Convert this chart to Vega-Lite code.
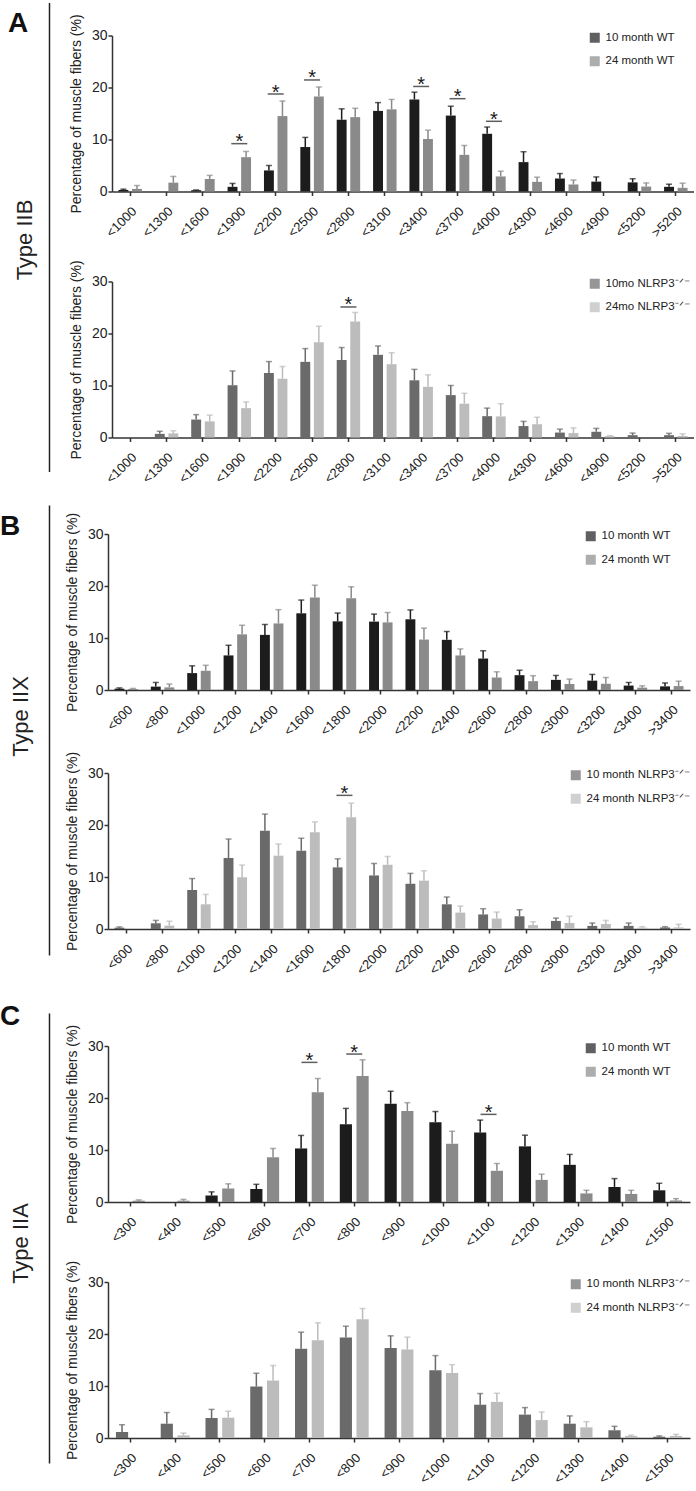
{
  "$schema": "https://vega.github.io/schema/vega-lite/v6.json",
  "background": "white",
  "padding": {"left": 0, "top": 9.5, "right": 0, "bottom": 0},
  "datasets": {
    "A1": [
      {"b":"<1000","g":"10 month WT","m":0.3,"t":0.45},{"b":"<1000","g":"24 month WT","m":0.5,"t":1.15},
      {"b":"<1300","g":"24 month WT","m":1.7,"t":2.9},
      {"b":"<1600","g":"10 month WT","m":0.25,"t":0.3},{"b":"<1600","g":"24 month WT","m":2.4,"t":3.1},
      {"b":"<1900","g":"10 month WT","m":0.9,"t":1.55},{"b":"<1900","g":"24 month WT","m":6.6,"t":7.7},
      {"b":"<2200","g":"10 month WT","m":4.05,"t":5.0},{"b":"<2200","g":"24 month WT","m":14.5,"t":17.4},
      {"b":"<2500","g":"10 month WT","m":8.55,"t":10.4},{"b":"<2500","g":"24 month WT","m":18.25,"t":20.1},
      {"b":"<2800","g":"10 month WT","m":13.8,"t":15.9},{"b":"<2800","g":"24 month WT","m":14.3,"t":16.0},
      {"b":"<3100","g":"10 month WT","m":15.5,"t":17.1},{"b":"<3100","g":"24 month WT","m":15.8,"t":17.7},
      {"b":"<3400","g":"10 month WT","m":17.7,"t":19.1},{"b":"<3400","g":"24 month WT","m":10.1,"t":11.8},
      {"b":"<3700","g":"10 month WT","m":14.6,"t":16.4},{"b":"<3700","g":"24 month WT","m":7.05,"t":8.85},
      {"b":"<4000","g":"10 month WT","m":11.1,"t":12.4},{"b":"<4000","g":"24 month WT","m":2.9,"t":3.9},
      {"b":"<4300","g":"10 month WT","m":5.65,"t":7.65},{"b":"<4300","g":"24 month WT","m":1.85,"t":2.75},
      {"b":"<4600","g":"10 month WT","m":2.5,"t":3.45},{"b":"<4600","g":"24 month WT","m":1.35,"t":2.2},
      {"b":"<4900","g":"10 month WT","m":1.9,"t":2.8},
      {"b":"<5200","g":"10 month WT","m":1.75,"t":2.45},{"b":"<5200","g":"24 month WT","m":0.95,"t":1.65},
      {"b":">5200","g":"10 month WT","m":0.9,"t":1.4},{"b":">5200","g":"24 month WT","m":0.7,"t":1.6}
    ],
    "A1s": [{"b":"<1900","y":9.2},{"b":"<2200","y":18.75},{"b":"<2500","y":21.45},{"b":"<3400","y":20.2},{"b":"<3700","y":17.85},{"b":"<4000","y":13.5}],
    "A2": [
      {"b":"<1300","g":"10mo NLRP3⁻ᐟ⁻","m":0.7,"t":1.2},{"b":"<1300","g":"24mo NLRP3⁻ᐟ⁻","m":0.8,"t":1.3},
      {"b":"<1600","g":"10mo NLRP3⁻ᐟ⁻","m":3.45,"t":4.4},{"b":"<1600","g":"24mo NLRP3⁻ᐟ⁻","m":3.1,"t":4.3},
      {"b":"<1900","g":"10mo NLRP3⁻ᐟ⁻","m":10.05,"t":12.8},{"b":"<1900","g":"24mo NLRP3⁻ᐟ⁻","m":5.65,"t":6.85},
      {"b":"<2200","g":"10mo NLRP3⁻ᐟ⁻","m":12.4,"t":14.6},{"b":"<2200","g":"24mo NLRP3⁻ᐟ⁻","m":11.3,"t":13.65},
      {"b":"<2500","g":"10mo NLRP3⁻ᐟ⁻","m":14.55,"t":17.1},{"b":"<2500","g":"24mo NLRP3⁻ᐟ⁻","m":18.3,"t":21.4},
      {"b":"<2800","g":"10mo NLRP3⁻ᐟ⁻","m":14.9,"t":17.3},{"b":"<2800","g":"24mo NLRP3⁻ᐟ⁻","m":22.3,"t":24.05},
      {"b":"<3100","g":"10mo NLRP3⁻ᐟ⁻","m":15.9,"t":17.6},{"b":"<3100","g":"24mo NLRP3⁻ᐟ⁻","m":14.1,"t":16.3},
      {"b":"<3400","g":"10mo NLRP3⁻ᐟ⁻","m":11.0,"t":13.1},{"b":"<3400","g":"24mo NLRP3⁻ᐟ⁻","m":9.75,"t":12.05},
      {"b":"<3700","g":"10mo NLRP3⁻ᐟ⁻","m":8.15,"t":10.0},{"b":"<3700","g":"24mo NLRP3⁻ᐟ⁻","m":6.5,"t":8.5},
      {"b":"<4000","g":"10mo NLRP3⁻ᐟ⁻","m":4.1,"t":5.65},{"b":"<4000","g":"24mo NLRP3⁻ᐟ⁻","m":4.05,"t":6.5},
      {"b":"<4300","g":"10mo NLRP3⁻ᐟ⁻","m":2.2,"t":3.1},{"b":"<4300","g":"24mo NLRP3⁻ᐟ⁻","m":2.55,"t":3.9},
      {"b":"<4600","g":"10mo NLRP3⁻ᐟ⁻","m":0.95,"t":1.6},{"b":"<4600","g":"24mo NLRP3⁻ᐟ⁻","m":0.85,"t":1.85},
      {"b":"<4900","g":"10mo NLRP3⁻ᐟ⁻","m":1.1,"t":1.75},{"b":"<4900","g":"24mo NLRP3⁻ᐟ⁻","m":0.25,"t":0.35},
      {"b":"<5200","g":"10mo NLRP3⁻ᐟ⁻","m":0.45,"t":0.85},
      {"b":">5200","g":"10mo NLRP3⁻ᐟ⁻","m":0.45,"t":0.8},{"b":">5200","g":"24mo NLRP3⁻ᐟ⁻","m":0.3,"t":0.7}
    ],
    "A2s": [{"b":"<2800","y":25.1}],
    "B1": [
      {"b":"<600","g":"10 month WT","m":0.25,"t":0.4},{"b":"<600","g":"24 month WT","m":0.2,"t":0.3},
      {"b":"<800","g":"10 month WT","m":0.65,"t":1.45},{"b":"<800","g":"24 month WT","m":0.5,"t":1.15},
      {"b":"<1000","g":"10 month WT","m":3.25,"t":4.65},{"b":"<1000","g":"24 month WT","m":3.7,"t":4.75},
      {"b":"<1200","g":"10 month WT","m":6.65,"t":8.6},{"b":"<1200","g":"24 month WT","m":10.7,"t":12.45},
      {"b":"<1400","g":"10 month WT","m":10.6,"t":12.6},{"b":"<1400","g":"24 month WT","m":12.8,"t":15.45},
      {"b":"<1600","g":"10 month WT","m":14.75,"t":17.3},{"b":"<1600","g":"24 month WT","m":17.8,"t":20.15},
      {"b":"<1800","g":"10 month WT","m":13.2,"t":14.8},{"b":"<1800","g":"24 month WT","m":17.65,"t":19.85},
      {"b":"<2000","g":"10 month WT","m":13.15,"t":14.6},{"b":"<2000","g":"24 month WT","m":13.0,"t":14.9},
      {"b":"<2200","g":"10 month WT","m":13.6,"t":15.4},{"b":"<2200","g":"24 month WT","m":9.7,"t":11.9},
      {"b":"<2400","g":"10 month WT","m":9.65,"t":11.25},{"b":"<2400","g":"24 month WT","m":6.65,"t":7.9},
      {"b":"<2600","g":"10 month WT","m":6.05,"t":7.55},{"b":"<2600","g":"24 month WT","m":2.4,"t":3.5},
      {"b":"<2800","g":"10 month WT","m":2.85,"t":3.8},{"b":"<2800","g":"24 month WT","m":1.7,"t":2.75},
      {"b":"<3000","g":"10 month WT","m":1.95,"t":2.8},{"b":"<3000","g":"24 month WT","m":1.15,"t":2.1},
      {"b":"<3200","g":"10 month WT","m":1.8,"t":3.0},{"b":"<3200","g":"24 month WT","m":1.2,"t":2.4},
      {"b":"<3400","g":"10 month WT","m":0.85,"t":1.45},{"b":"<3400","g":"24 month WT","m":0.45,"t":0.8},
      {"b":">3400","g":"10 month WT","m":0.7,"t":1.35},{"b":">3400","g":"24 month WT","m":0.75,"t":1.7}
    ],
    "B2": [
      {"b":"<600","g":"10 month NLRP3⁻ᐟ⁻","m":0.25,"t":0.4},
      {"b":"<800","g":"10 month NLRP3⁻ᐟ⁻","m":1.1,"t":1.65},{"b":"<800","g":"24 month NLRP3⁻ᐟ⁻","m":0.65,"t":1.5},
      {"b":"<1000","g":"10 month NLRP3⁻ᐟ⁻","m":7.5,"t":9.7},{"b":"<1000","g":"24 month NLRP3⁻ᐟ⁻","m":4.75,"t":6.65},
      {"b":"<1200","g":"10 month NLRP3⁻ᐟ⁻","m":13.65,"t":17.3},{"b":"<1200","g":"24 month NLRP3⁻ᐟ⁻","m":9.95,"t":12.3},
      {"b":"<1400","g":"10 month NLRP3⁻ᐟ⁻","m":18.9,"t":22.1},{"b":"<1400","g":"24 month NLRP3⁻ᐟ⁻","m":14.1,"t":16.35},
      {"b":"<1600","g":"10 month NLRP3⁻ᐟ⁻","m":15.05,"t":17.45},{"b":"<1600","g":"24 month NLRP3⁻ᐟ⁻","m":18.6,"t":20.6},
      {"b":"<1800","g":"10 month NLRP3⁻ᐟ⁻","m":11.85,"t":13.5},{"b":"<1800","g":"24 month NLRP3⁻ᐟ⁻","m":21.5,"t":24.2},
      {"b":"<2000","g":"10 month NLRP3⁻ᐟ⁻","m":10.3,"t":12.6},{"b":"<2000","g":"24 month NLRP3⁻ᐟ⁻","m":12.35,"t":13.95},
      {"b":"<2200","g":"10 month NLRP3⁻ᐟ⁻","m":8.7,"t":10.7},{"b":"<2200","g":"24 month NLRP3⁻ᐟ⁻","m":9.3,"t":11.2},
      {"b":"<2400","g":"10 month NLRP3⁻ᐟ⁻","m":4.75,"t":6.15},{"b":"<2400","g":"24 month NLRP3⁻ᐟ⁻","m":3.15,"t":4.4},
      {"b":"<2600","g":"10 month NLRP3⁻ᐟ⁻","m":2.8,"t":3.9},{"b":"<2600","g":"24 month NLRP3⁻ᐟ⁻","m":2.0,"t":3.25},
      {"b":"<2800","g":"10 month NLRP3⁻ᐟ⁻","m":2.45,"t":3.7},{"b":"<2800","g":"24 month NLRP3⁻ᐟ⁻","m":0.75,"t":1.4},
      {"b":"<3000","g":"10 month NLRP3⁻ᐟ⁻","m":1.55,"t":2.1},{"b":"<3000","g":"24 month NLRP3⁻ᐟ⁻","m":1.15,"t":2.45},
      {"b":"<3200","g":"10 month NLRP3⁻ᐟ⁻","m":0.6,"t":1.15},{"b":"<3200","g":"24 month NLRP3⁻ᐟ⁻","m":0.95,"t":1.65},
      {"b":"<3400","g":"10 month NLRP3⁻ᐟ⁻","m":0.6,"t":1.15},{"b":"<3400","g":"24 month NLRP3⁻ᐟ⁻","m":0.25,"t":0.45},
      {"b":">3400","g":"10 month NLRP3⁻ᐟ⁻","m":0.3,"t":0.45},{"b":">3400","g":"24 month NLRP3⁻ᐟ⁻","m":0.3,"t":0.9}
    ],
    "B2s": [{"b":"<1800","y":25.7}],
    "C1": [
      {"b":"<300","g":"24 month WT","m":0.25,"t":0.4},
      {"b":"<400","g":"24 month WT","m":0.25,"t":0.5},
      {"b":"<500","g":"10 month WT","m":1.25,"t":1.95},{"b":"<500","g":"24 month WT","m":2.6,"t":3.5},
      {"b":"<600","g":"10 month WT","m":2.5,"t":3.4},{"b":"<600","g":"24 month WT","m":8.6,"t":10.3},
      {"b":"<700","g":"10 month WT","m":10.3,"t":12.8},{"b":"<700","g":"24 month WT","m":21.1,"t":23.75},
      {"b":"<800","g":"10 month WT","m":14.95,"t":18.0},{"b":"<800","g":"24 month WT","m":24.25,"t":27.35},
      {"b":"<900","g":"10 month WT","m":18.9,"t":21.3},{"b":"<900","g":"24 month WT","m":17.5,"t":19.1},
      {"b":"<1000","g":"10 month WT","m":15.35,"t":17.4},{"b":"<1000","g":"24 month WT","m":11.2,"t":13.6},
      {"b":"<1100","g":"10 month WT","m":13.35,"t":15.75},{"b":"<1100","g":"24 month WT","m":6.0,"t":7.4},
      {"b":"<1200","g":"10 month WT","m":10.7,"t":12.85},{"b":"<1200","g":"24 month WT","m":4.25,"t":5.35},
      {"b":"<1300","g":"10 month WT","m":7.15,"t":9.15},{"b":"<1300","g":"24 month WT","m":1.65,"t":2.25},
      {"b":"<1400","g":"10 month WT","m":2.9,"t":4.5},{"b":"<1400","g":"24 month WT","m":1.55,"t":2.25},
      {"b":"<1500","g":"10 month WT","m":2.25,"t":3.6},{"b":"<1500","g":"24 month WT","m":0.3,"t":0.65}
    ],
    "C1s": [{"b":"<700","y":26.85},{"b":"<800","y":28.45},{"b":"<1100","y":16.85}],
    "C2": [
      {"b":"<300","g":"10 month NLRP3⁻ᐟ⁻","m":1.15,"t":2.55},
      {"b":"<400","g":"10 month NLRP3⁻ᐟ⁻","m":2.75,"t":4.9},{"b":"<400","g":"24 month NLRP3⁻ᐟ⁻","m":0.5,"t":0.95},
      {"b":"<500","g":"10 month NLRP3⁻ᐟ⁻","m":3.85,"t":5.5},{"b":"<500","g":"24 month NLRP3⁻ᐟ⁻","m":3.9,"t":5.15},
      {"b":"<600","g":"10 month NLRP3⁻ᐟ⁻","m":9.9,"t":12.45},{"b":"<600","g":"24 month NLRP3⁻ᐟ⁻","m":11.05,"t":13.95},
      {"b":"<700","g":"10 month NLRP3⁻ᐟ⁻","m":17.15,"t":20.35},{"b":"<700","g":"24 month NLRP3⁻ᐟ⁻","m":18.8,"t":22.15},
      {"b":"<800","g":"10 month NLRP3⁻ᐟ⁻","m":19.35,"t":21.5},{"b":"<800","g":"24 month NLRP3⁻ᐟ⁻","m":22.85,"t":24.9},
      {"b":"<900","g":"10 month NLRP3⁻ᐟ⁻","m":17.3,"t":19.65},{"b":"<900","g":"24 month NLRP3⁻ᐟ⁻","m":17.0,"t":19.4},
      {"b":"<1000","g":"10 month NLRP3⁻ᐟ⁻","m":13.05,"t":15.85},{"b":"<1000","g":"24 month NLRP3⁻ᐟ⁻","m":12.5,"t":14.1},
      {"b":"<1100","g":"10 month NLRP3⁻ᐟ⁻","m":6.4,"t":8.55},{"b":"<1100","g":"24 month NLRP3⁻ᐟ⁻","m":6.95,"t":8.6},
      {"b":"<1200","g":"10 month NLRP3⁻ᐟ⁻","m":4.5,"t":5.85},{"b":"<1200","g":"24 month NLRP3⁻ᐟ⁻","m":3.45,"t":5.0},
      {"b":"<1300","g":"10 month NLRP3⁻ᐟ⁻","m":2.75,"t":4.25},{"b":"<1300","g":"24 month NLRP3⁻ᐟ⁻","m":2.05,"t":3.15},
      {"b":"<1400","g":"10 month NLRP3⁻ᐟ⁻","m":1.5,"t":2.25},{"b":"<1400","g":"24 month NLRP3⁻ᐟ⁻","m":0.4,"t":0.55},
      {"b":"<1500","g":"10 month NLRP3⁻ᐟ⁻","m":0.25,"t":0.4},{"b":"<1500","g":"24 month NLRP3⁻ᐟ⁻","m":0.4,"t":0.7}
    ]
  },
  "spacing": 5.5,
  "resolve": {"scale": {"color": "independent", "x": "independent", "y": "independent", "xOffset": "independent"}, "legend": {"color": "independent"}},
  "vconcat": [
    {
      "resolve": {"scale": {"color": "independent", "x": "independent", "y": "independent", "xOffset": "independent"}, "legend": {"color": "independent"}},
      "vconcat": [
        {
          "title": {"text": "A", "dx": -5, "offset": -26},
          "spacing": 19,
          "resolve": {"scale": {"color": "independent", "x": "independent", "y": "independent", "xOffset": "independent"}, "legend": {"color": "independent"}},
          "hconcat": [
            {
              "width": 1, "height": 436,
              "data": {"values": [{}]},
              "mark": {"type": "rule", "opacity": 0},
              "encoding": {"y": {"datum": 0, "type": "quantitative", "scale": {"domain": [0, 1], "range": [436, -33]},
                "axis": {"domain": true, "domainColor": "#222", "domainWidth": 1.5, "ticks": false, "labels": false, "grid": false, "title": "Type IIB", "titleFontSize": 22, "titleFontWeight": "normal", "titleColor": "#222", "titlePadding": 13, "titleY": 204}}}
            },
            {
              "spacing": 17,
              "resolve": {"scale": {"color": "independent", "x": "independent", "y": "independent", "xOffset": "independent"}, "legend": {"color": "independent"}},
              "vconcat": [
                {
                  "width": 582, "height": 156,
                  "layer": [
                    {"data": {"name": "A1"}, "mark": {"type": "bar"},
                     "encoding": {
                       "x": {"field": "b", "type": "nominal", "title": null, "scale": {"domain": ["<1000","<1300","<1600","<1900","<2200","<2500","<2800","<3100","<3400","<3700","<4000","<4300","<4600","<4900","<5200",">5200"], "paddingInner": 0.355, "paddingOuter": 0.1775}},
                       "xOffset": {"field": "g", "type": "nominal", "scale": {"domain": ["10 month WT","24 month WT"], "paddingInner": 0.27, "paddingOuter": 0}},
                       "y": {"field": "m", "type": "quantitative", "title": "Percentage of  muscle fibers (%)", "scale": {"domain": [0, 30]}, "axis": {"values": [0, 10, 20, 30]}},
                       "color": {"field": "g", "type": "nominal", "scale": {"domain": ["10 month WT","24 month WT"], "range": ["#1c1c1c", "#8a8a8a"]}, "legend": {"title": null, "orient": "none", "legendX": 477, "legendY": -3.5}}
                     }},
                    {"data": {"name": "A1"}, "mark": {"type": "rule", "strokeWidth": 1.5},
                     "encoding": {"x": {"field": "b", "type": "nominal", "title": null}, "xOffset": {"field": "g", "type": "nominal"}, "y": {"field": "m", "type": "quantitative", "title": "Percentage of  muscle fibers (%)"}, "y2": {"field": "t"}, "color": {"field": "g", "type": "nominal"}}},
                    {"data": {"name": "A1"}, "mark": {"type": "tick", "thickness": 1.5, "size": 6},
                     "encoding": {"x": {"field": "b", "type": "nominal", "title": null}, "xOffset": {"field": "g", "type": "nominal"}, "y": {"field": "t", "type": "quantitative", "title": "Percentage of  muscle fibers (%)"}, "color": {"field": "g", "type": "nominal"}}},
                    {"data": {"name": "A1s"}, "mark": {"type": "tick", "thickness": 1.5, "size": 16, "color": "#1a1a1a"},
                     "encoding": {"x": {"field": "b", "type": "nominal", "title": null}, "y": {"field": "y", "type": "quantitative", "title": "Percentage of  muscle fibers (%)"}}},
                    {"data": {"name": "A1s"}, "mark": {"type": "text", "text": "*", "fontSize": 20, "dy": 4.5, "baseline": "alphabetic", "color": "#1a1a1a"},
                     "encoding": {"x": {"field": "b", "type": "nominal", "title": null}, "y": {"field": "y", "type": "quantitative", "title": "Percentage of  muscle fibers (%)"}}}
                  ]
                },
                {
                  "width": 582, "height": 156,
                  "layer": [
                    {"data": {"name": "A2"}, "mark": {"type": "bar"},
                     "encoding": {
                       "x": {"field": "b", "type": "nominal", "title": null, "scale": {"domain": ["<1000","<1300","<1600","<1900","<2200","<2500","<2800","<3100","<3400","<3700","<4000","<4300","<4600","<4900","<5200",">5200"], "paddingInner": 0.355, "paddingOuter": 0.1775}},
                       "xOffset": {"field": "g", "type": "nominal", "scale": {"domain": ["10mo NLRP3⁻ᐟ⁻","24mo NLRP3⁻ᐟ⁻"], "paddingInner": 0.27, "paddingOuter": 0}},
                       "y": {"field": "m", "type": "quantitative", "title": "Percentage of  muscle fibers (%)", "scale": {"domain": [0, 30]}, "axis": {"values": [0, 10, 20, 30]}},
                       "color": {"field": "g", "type": "nominal", "scale": {"domain": ["10mo NLRP3⁻ᐟ⁻","24mo NLRP3⁻ᐟ⁻"], "range": ["#6a6a6a", "#bcbcbc"]}, "legend": {"title": null, "orient": "none", "legendX": 477, "legendY": -3.5}}
                     }},
                    {"data": {"name": "A2"}, "mark": {"type": "rule", "strokeWidth": 1.5},
                     "encoding": {"x": {"field": "b", "type": "nominal", "title": null}, "xOffset": {"field": "g", "type": "nominal"}, "y": {"field": "m", "type": "quantitative", "title": "Percentage of  muscle fibers (%)"}, "y2": {"field": "t"}, "color": {"field": "g", "type": "nominal"}}},
                    {"data": {"name": "A2"}, "mark": {"type": "tick", "thickness": 1.5, "size": 6},
                     "encoding": {"x": {"field": "b", "type": "nominal", "title": null}, "xOffset": {"field": "g", "type": "nominal"}, "y": {"field": "t", "type": "quantitative", "title": "Percentage of  muscle fibers (%)"}, "color": {"field": "g", "type": "nominal"}}},
                    {"data": {"name": "A2s"}, "mark": {"type": "tick", "thickness": 1.5, "size": 16, "color": "#1a1a1a"},
                     "encoding": {"x": {"field": "b", "type": "nominal", "title": null}, "y": {"field": "y", "type": "quantitative", "title": "Percentage of  muscle fibers (%)"}}},
                    {"data": {"name": "A2s"}, "mark": {"type": "text", "text": "*", "fontSize": 20, "dy": 4.5, "baseline": "alphabetic", "color": "#1a1a1a"},
                     "encoding": {"x": {"field": "b", "type": "nominal", "title": null}, "y": {"field": "y", "type": "quantitative", "title": "Percentage of  muscle fibers (%)"}}}
                  ]
                }
              ]
            }
          ]
        }
      ]
    },
    {
      "spacing": 19,
      "resolve": {"scale": {"color": "independent", "x": "independent", "y": "independent", "xOffset": "independent"}, "legend": {"color": "independent"}},
      "vconcat": [
        {
          "title": {"text": "B", "dx": -9, "offset": -31},
          "spacing": 15,
          "resolve": {"scale": {"color": "independent", "x": "independent", "y": "independent", "xOffset": "independent"}, "legend": {"color": "independent"}},
          "hconcat": [
            {
              "width": 1, "height": 421,
              "data": {"values": [{}]},
              "mark": {"type": "rule", "opacity": 0},
              "encoding": {"y": {"datum": 0, "type": "quantitative", "scale": {"domain": [0, 1], "range": [421, -29]},
                "axis": {"domain": true, "domainColor": "#222", "domainWidth": 1.5, "ticks": false, "labels": false, "grid": false, "title": "Type IIX", "titleFontSize": 22, "titleFontWeight": "normal", "titleColor": "#222", "titlePadding": 17, "titleY": 182}}}
            },
            {
              "spacing": 10,
              "resolve": {"scale": {"color": "independent", "x": "independent", "y": "independent", "xOffset": "independent"}, "legend": {"color": "independent"}},
              "vconcat": [
                {
                  "width": 582, "height": 156,
                  "layer": [
                    {"data": {"name": "B1"}, "mark": {"type": "bar"},
                     "encoding": {
                       "x": {"field": "b", "type": "nominal", "title": null, "scale": {"domain": ["<600","<800","<1000","<1200","<1400","<1600","<1800","<2000","<2200","<2400","<2600","<2800","<3000","<3200","<3400",">3400"], "paddingInner": 0.355, "paddingOuter": 0.1775}},
                       "xOffset": {"field": "g", "type": "nominal", "scale": {"domain": ["10 month WT","24 month WT"], "paddingInner": 0.27, "paddingOuter": 0}},
                       "y": {"field": "m", "type": "quantitative", "title": "Percentage of  muscle fibers (%)", "scale": {"domain": [0, 30]}, "axis": {"values": [0, 10, 20, 30]}},
                       "color": {"field": "g", "type": "nominal", "scale": {"domain": ["10 month WT","24 month WT"], "range": ["#1c1c1c", "#8a8a8a"]}, "legend": {"title": null, "orient": "none", "legendX": 477, "legendY": -3.5}}
                     }},
                    {"data": {"name": "B1"}, "mark": {"type": "rule", "strokeWidth": 1.5},
                     "encoding": {"x": {"field": "b", "type": "nominal", "title": null}, "xOffset": {"field": "g", "type": "nominal"}, "y": {"field": "m", "type": "quantitative", "title": "Percentage of  muscle fibers (%)"}, "y2": {"field": "t"}, "color": {"field": "g", "type": "nominal"}}},
                    {"data": {"name": "B1"}, "mark": {"type": "tick", "thickness": 1.5, "size": 6},
                     "encoding": {"x": {"field": "b", "type": "nominal", "title": null}, "xOffset": {"field": "g", "type": "nominal"}, "y": {"field": "t", "type": "quantitative", "title": "Percentage of  muscle fibers (%)"}, "color": {"field": "g", "type": "nominal"}}}
                  ]
                },
                {
                  "width": 582, "height": 156,
                  "layer": [
                    {"data": {"name": "B2"}, "mark": {"type": "bar"},
                     "encoding": {
                       "x": {"field": "b", "type": "nominal", "title": null, "scale": {"domain": ["<600","<800","<1000","<1200","<1400","<1600","<1800","<2000","<2200","<2400","<2600","<2800","<3000","<3200","<3400",">3400"], "paddingInner": 0.355, "paddingOuter": 0.1775}},
                       "xOffset": {"field": "g", "type": "nominal", "scale": {"domain": ["10 month NLRP3⁻ᐟ⁻","24 month NLRP3⁻ᐟ⁻"], "paddingInner": 0.27, "paddingOuter": 0}},
                       "y": {"field": "m", "type": "quantitative", "title": "Percentage of  muscle fibers (%)", "scale": {"domain": [0, 30]}, "axis": {"values": [0, 10, 20, 30]}},
                       "color": {"field": "g", "type": "nominal", "scale": {"domain": ["10 month NLRP3⁻ᐟ⁻","24 month NLRP3⁻ᐟ⁻"], "range": ["#6a6a6a", "#bcbcbc"]}, "legend": {"title": null, "orient": "none", "legendX": 462, "legendY": -3.5}}
                     }},
                    {"data": {"name": "B2"}, "mark": {"type": "rule", "strokeWidth": 1.5},
                     "encoding": {"x": {"field": "b", "type": "nominal", "title": null}, "xOffset": {"field": "g", "type": "nominal"}, "y": {"field": "m", "type": "quantitative", "title": "Percentage of  muscle fibers (%)"}, "y2": {"field": "t"}, "color": {"field": "g", "type": "nominal"}}},
                    {"data": {"name": "B2"}, "mark": {"type": "tick", "thickness": 1.5, "size": 6},
                     "encoding": {"x": {"field": "b", "type": "nominal", "title": null}, "xOffset": {"field": "g", "type": "nominal"}, "y": {"field": "t", "type": "quantitative", "title": "Percentage of  muscle fibers (%)"}, "color": {"field": "g", "type": "nominal"}}},
                    {"data": {"name": "B2s"}, "mark": {"type": "tick", "thickness": 1.5, "size": 16, "color": "#1a1a1a"},
                     "encoding": {"x": {"field": "b", "type": "nominal", "title": null}, "y": {"field": "y", "type": "quantitative", "title": "Percentage of  muscle fibers (%)"}}},
                    {"data": {"name": "B2s"}, "mark": {"type": "text", "text": "*", "fontSize": 20, "dy": 4.5, "baseline": "alphabetic", "color": "#1a1a1a"},
                     "encoding": {"x": {"field": "b", "type": "nominal", "title": null}, "y": {"field": "y", "type": "quantitative", "title": "Percentage of  muscle fibers (%)"}}}
                  ]
                }
              ]
            }
          ]
        },
        {
          "title": {"text": "C", "dx": -9, "offset": -9},
          "spacing": 15,
          "resolve": {"scale": {"color": "independent", "x": "independent", "y": "independent", "xOffset": "independent"}, "legend": {"color": "independent"}},
          "hconcat": [
            {
              "width": 1, "height": 417,
              "data": {"values": [{}]},
              "mark": {"type": "rule", "opacity": 0},
              "encoding": {"y": {"datum": 0, "type": "quantitative", "scale": {"domain": [0, 1], "range": [417, -33]},
                "axis": {"domain": true, "domainColor": "#222", "domainWidth": 1.5, "ticks": false, "labels": false, "grid": false, "title": "Type IIA", "titleFontSize": 22, "titleFontWeight": "normal", "titleColor": "#222", "titlePadding": 17, "titleY": 197}}}
            },
            {
              "spacing": 7,
              "resolve": {"scale": {"color": "independent", "x": "independent", "y": "independent", "xOffset": "independent"}, "legend": {"color": "independent"}},
              "vconcat": [
                {
                  "width": 582, "height": 156,
                  "layer": [
                    {"data": {"name": "C1"}, "mark": {"type": "bar"},
                     "encoding": {
                       "x": {"field": "b", "type": "nominal", "title": null, "scale": {"domain": ["<300","<400","<500","<600","<700","<800","<900","<1000","<1100","<1200","<1300","<1400","<1500"], "paddingInner": 0.355, "paddingOuter": 0.1775}},
                       "xOffset": {"field": "g", "type": "nominal", "scale": {"domain": ["10 month WT","24 month WT"], "paddingInner": 0.27, "paddingOuter": 0}},
                       "y": {"field": "m", "type": "quantitative", "title": "Percentage of  muscle fibers (%)", "scale": {"domain": [0, 30]}, "axis": {"values": [0, 10, 20, 30]}},
                       "color": {"field": "g", "type": "nominal", "scale": {"domain": ["10 month WT","24 month WT"], "range": ["#1c1c1c", "#8a8a8a"]}, "legend": {"title": null, "orient": "none", "legendX": 477, "legendY": -3.5}}
                     }},
                    {"data": {"name": "C1"}, "mark": {"type": "rule", "strokeWidth": 1.5},
                     "encoding": {"x": {"field": "b", "type": "nominal", "title": null}, "xOffset": {"field": "g", "type": "nominal"}, "y": {"field": "m", "type": "quantitative", "title": "Percentage of  muscle fibers (%)"}, "y2": {"field": "t"}, "color": {"field": "g", "type": "nominal"}}},
                    {"data": {"name": "C1"}, "mark": {"type": "tick", "thickness": 1.5, "size": 6},
                     "encoding": {"x": {"field": "b", "type": "nominal", "title": null}, "xOffset": {"field": "g", "type": "nominal"}, "y": {"field": "t", "type": "quantitative", "title": "Percentage of  muscle fibers (%)"}, "color": {"field": "g", "type": "nominal"}}},
                    {"data": {"name": "C1s"}, "mark": {"type": "tick", "thickness": 1.5, "size": 16, "color": "#1a1a1a"},
                     "encoding": {"x": {"field": "b", "type": "nominal", "title": null}, "y": {"field": "y", "type": "quantitative", "title": "Percentage of  muscle fibers (%)"}}},
                    {"data": {"name": "C1s"}, "mark": {"type": "text", "text": "*", "fontSize": 20, "dy": 4.5, "baseline": "alphabetic", "color": "#1a1a1a"},
                     "encoding": {"x": {"field": "b", "type": "nominal", "title": null}, "y": {"field": "y", "type": "quantitative", "title": "Percentage of  muscle fibers (%)"}}}
                  ]
                },
                {
                  "width": 582, "height": 156,
                  "layer": [
                    {"data": {"name": "C2"}, "mark": {"type": "bar"},
                     "encoding": {
                       "x": {"field": "b", "type": "nominal", "title": null, "scale": {"domain": ["<300","<400","<500","<600","<700","<800","<900","<1000","<1100","<1200","<1300","<1400","<1500"], "paddingInner": 0.355, "paddingOuter": 0.1775}},
                       "xOffset": {"field": "g", "type": "nominal", "scale": {"domain": ["10 month NLRP3⁻ᐟ⁻","24 month NLRP3⁻ᐟ⁻"], "paddingInner": 0.27, "paddingOuter": 0}},
                       "y": {"field": "m", "type": "quantitative", "title": "Percentage of  muscle fibers (%)", "scale": {"domain": [0, 30]}, "axis": {"values": [0, 10, 20, 30]}},
                       "color": {"field": "g", "type": "nominal", "scale": {"domain": ["10 month NLRP3⁻ᐟ⁻","24 month NLRP3⁻ᐟ⁻"], "range": ["#6a6a6a", "#bcbcbc"]}, "legend": {"title": null, "orient": "none", "legendX": 462, "legendY": -3.5}}
                     }},
                    {"data": {"name": "C2"}, "mark": {"type": "rule", "strokeWidth": 1.5},
                     "encoding": {"x": {"field": "b", "type": "nominal", "title": null}, "xOffset": {"field": "g", "type": "nominal"}, "y": {"field": "m", "type": "quantitative", "title": "Percentage of  muscle fibers (%)"}, "y2": {"field": "t"}, "color": {"field": "g", "type": "nominal"}}},
                    {"data": {"name": "C2"}, "mark": {"type": "tick", "thickness": 1.5, "size": 6},
                     "encoding": {"x": {"field": "b", "type": "nominal", "title": null}, "xOffset": {"field": "g", "type": "nominal"}, "y": {"field": "t", "type": "quantitative", "title": "Percentage of  muscle fibers (%)"}, "color": {"field": "g", "type": "nominal"}}}
                  ]
                }
              ]
            }
          ]
        }
      ]
    }
  ],
  "config": {
    "view": {"stroke": null},
    "font": "Liberation Sans",
    "axis": {"domainColor": "#333", "domainWidth": 1.5, "tickColor": "#333", "tickWidth": 1.5, "tickSize": 4, "labelColor": "#222", "titleColor": "#222", "grid": false, "labelFont": "Liberation Sans", "titleFont": "Liberation Sans", "titleFontWeight": "normal"},
    "axisX": {"labelAngle": -45, "labelFontSize": 13, "labelPadding": 9, "labelOverlap": false},
    "axisY": {"labelFontSize": 14, "labelPadding": 1, "titleFontSize": 14, "titlePadding": 8},
    "legend": {"symbolType": "square", "symbolSize": 100, "labelFontSize": 11.5, "labelFont": "Liberation Sans", "labelColor": "#222", "rowPadding": 10.5, "symbolStrokeWidth": 0, "labelOffset": 5, "padding": 0},
    "title": {"font": "Liberation Sans", "fontSize": 28, "fontWeight": "bold", "color": "#111", "anchor": "start"}
  }
}
